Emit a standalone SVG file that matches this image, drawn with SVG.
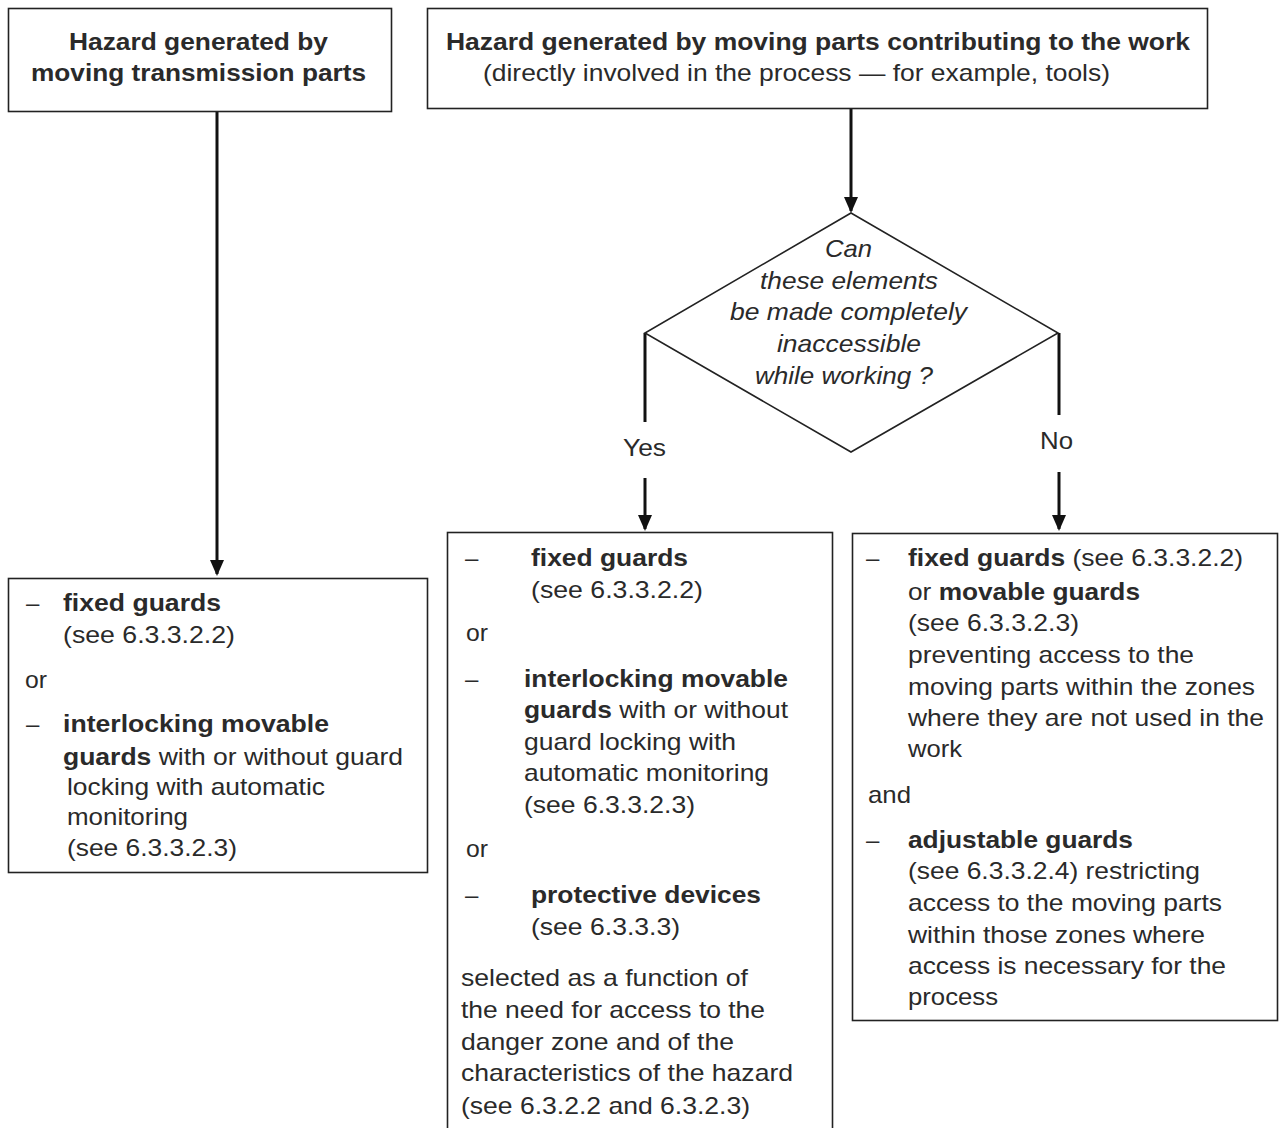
<svg xmlns="http://www.w3.org/2000/svg" width="1279" height="1128" viewBox="0 0 1279 1128">
<defs>
<marker id="ah" markerUnits="userSpaceOnUse" markerWidth="16" markerHeight="14" viewBox="0 0 16 14" refX="14" refY="7" orient="auto">
<path d="M0,0 L16,7 L0,14 z" fill="#111"/>
</marker>
</defs>
<style>
.box{fill:#fff;stroke:#222;stroke-width:1.6}
.t{font-family:"Liberation Sans",Arial,sans-serif;font-size:24px;fill:#2a2a2a}
.b{font-weight:bold}
.i{font-style:italic}
.m{text-anchor:middle}
.c{stroke:#111;stroke-width:3;fill:none}
</style>
<rect width="1279" height="1128" fill="#fff"/>
<g id="connectors">
<path class="c" d="M217 111 V574" marker-end="url(#ah)"/>
<path class="c" d="M851 108 V211" marker-end="url(#ah)"/>
<path class="c" d="M645 333 V422"/>
<path class="c" d="M645 478 V529" marker-end="url(#ah)"/>
<path class="c" d="M1059 333 V415"/>
<path class="c" d="M1059 472 V529" marker-end="url(#ah)"/>
</g>
<g id="node-transmission">
<rect class="box" x="8.5" y="8.5" width="383" height="103"/>
<text class="t b" x="69" y="50" textLength="259" lengthAdjust="spacingAndGlyphs">Hazard generated by</text>
<text class="t b" x="31" y="81" textLength="335" lengthAdjust="spacingAndGlyphs">moving transmission parts</text>
</g>
<g id="node-work">
<rect class="box" x="427.5" y="8.5" width="780" height="100"/>
<text class="t b" x="446" y="50" textLength="744" lengthAdjust="spacingAndGlyphs">Hazard generated by moving parts contributing to the work</text>
<text class="t" x="483" y="81" textLength="627" lengthAdjust="spacingAndGlyphs">(directly involved in the process — for example, tools)</text>
</g>
<g id="node-decision">
<polygon points="851,213 1058,333 851,452 645,333" fill="#fff" stroke="#222" stroke-width="1.6"/>
<text class="t i" x="825" y="257" textLength="47" lengthAdjust="spacingAndGlyphs">Can</text>
<text class="t i" x="760" y="289" textLength="178" lengthAdjust="spacingAndGlyphs">these elements</text>
<text class="t i" x="730" y="320" textLength="237" lengthAdjust="spacingAndGlyphs">be made completely</text>
<text class="t i" x="777" y="352" textLength="144" lengthAdjust="spacingAndGlyphs">inaccessible</text>
<text class="t i" x="755" y="384" textLength="178" lengthAdjust="spacingAndGlyphs">while working ?</text>
</g>
<g id="label-yes"><text class="t" x="623" y="456" textLength="43" lengthAdjust="spacingAndGlyphs">Yes</text></g>
<g id="label-no"><text class="t" x="1040" y="449" textLength="33" lengthAdjust="spacingAndGlyphs">No</text></g>
<g id="node-left-result">
<rect class="box" x="8.5" y="578.5" width="419" height="294"/>
<text class="t" x="26" y="611">–</text>
<text class="t b" x="63" y="611" textLength="158" lengthAdjust="spacingAndGlyphs">fixed guards</text>
<text class="t" x="63" y="643" textLength="172" lengthAdjust="spacingAndGlyphs">(see 6.3.3.2.2)</text>
<text class="t" x="25" y="688" textLength="22" lengthAdjust="spacingAndGlyphs">or</text>
<text class="t" x="26" y="732">–</text>
<text class="t b" x="63" y="732" textLength="266" lengthAdjust="spacingAndGlyphs">interlocking movable</text>
<text class="t" x="63" y="765" textLength="340" lengthAdjust="spacingAndGlyphs"><tspan class="b">guards</tspan> with or without guard</text>
<text class="t" x="67" y="795" textLength="258" lengthAdjust="spacingAndGlyphs">locking with automatic</text>
<text class="t" x="67" y="825" textLength="121" lengthAdjust="spacingAndGlyphs">monitoring</text>
<text class="t" x="67" y="856" textLength="170" lengthAdjust="spacingAndGlyphs">(see 6.3.3.2.3)</text>
</g>
<g id="node-yes-result">
<rect class="box" x="447.5" y="532.5" width="385" height="610"/>
<text class="t" x="465" y="566">–</text>
<text class="t b" x="531" y="566" textLength="157" lengthAdjust="spacingAndGlyphs">fixed guards</text>
<text class="t" x="531" y="598" textLength="172" lengthAdjust="spacingAndGlyphs">(see 6.3.3.2.2)</text>
<text class="t" x="466" y="641" textLength="22" lengthAdjust="spacingAndGlyphs">or</text>
<text class="t" x="465" y="687">–</text>
<text class="t b" x="524" y="687" textLength="264" lengthAdjust="spacingAndGlyphs">interlocking movable</text>
<text class="t" x="524" y="718" textLength="264" lengthAdjust="spacingAndGlyphs"><tspan class="b">guards</tspan> with or without</text>
<text class="t" x="524" y="750" textLength="212" lengthAdjust="spacingAndGlyphs">guard locking with</text>
<text class="t" x="524" y="781" textLength="245" lengthAdjust="spacingAndGlyphs">automatic monitoring</text>
<text class="t" x="524" y="813" textLength="171" lengthAdjust="spacingAndGlyphs">(see 6.3.3.2.3)</text>
<text class="t" x="466" y="857" textLength="22" lengthAdjust="spacingAndGlyphs">or</text>
<text class="t" x="465" y="903">–</text>
<text class="t b" x="531" y="903" textLength="230" lengthAdjust="spacingAndGlyphs">protective devices</text>
<text class="t" x="531" y="935" textLength="149" lengthAdjust="spacingAndGlyphs">(see 6.3.3.3)</text>
<text class="t" x="461" y="986" textLength="287" lengthAdjust="spacingAndGlyphs">selected as a function of</text>
<text class="t" x="461" y="1018" textLength="304" lengthAdjust="spacingAndGlyphs">the need for access to the</text>
<text class="t" x="461" y="1050" textLength="273" lengthAdjust="spacingAndGlyphs">danger zone and of the</text>
<text class="t" x="461" y="1081" textLength="332" lengthAdjust="spacingAndGlyphs">characteristics of the hazard</text>
<text class="t" x="461" y="1114" textLength="289" lengthAdjust="spacingAndGlyphs">(see 6.3.2.2 and 6.3.2.3)</text>
</g>
<g id="node-no-result">
<rect class="box" x="852.5" y="533.5" width="425" height="487"/>
<text class="t" x="866" y="566">–</text>
<text class="t" x="908" y="566" textLength="335" lengthAdjust="spacingAndGlyphs"><tspan class="b">fixed guards</tspan> (see 6.3.3.2.2)</text>
<text class="t" x="908" y="600" textLength="232" lengthAdjust="spacingAndGlyphs">or <tspan class="b">movable guards</tspan></text>
<text class="t" x="908" y="631" textLength="171" lengthAdjust="spacingAndGlyphs">(see 6.3.3.2.3)</text>
<text class="t" x="908" y="663" textLength="286" lengthAdjust="spacingAndGlyphs">preventing access to the</text>
<text class="t" x="908" y="695" textLength="347" lengthAdjust="spacingAndGlyphs">moving parts within the zones</text>
<text class="t" x="908" y="726" textLength="356" lengthAdjust="spacingAndGlyphs">where they are not used in the</text>
<text class="t" x="908" y="757" textLength="54" lengthAdjust="spacingAndGlyphs">work</text>
<text class="t" x="868" y="803" textLength="43" lengthAdjust="spacingAndGlyphs">and</text>
<text class="t" x="866" y="848">–</text>
<text class="t b" x="908" y="848" textLength="225" lengthAdjust="spacingAndGlyphs">adjustable guards</text>
<text class="t" x="908" y="879" textLength="292" lengthAdjust="spacingAndGlyphs">(see 6.3.3.2.4) restricting</text>
<text class="t" x="908" y="911" textLength="314" lengthAdjust="spacingAndGlyphs">access to the moving parts</text>
<text class="t" x="908" y="943" textLength="297" lengthAdjust="spacingAndGlyphs">within those zones where</text>
<text class="t" x="908" y="974" textLength="318" lengthAdjust="spacingAndGlyphs">access is necessary for the</text>
<text class="t" x="908" y="1005" textLength="90" lengthAdjust="spacingAndGlyphs">process</text>
</g>
</svg>
